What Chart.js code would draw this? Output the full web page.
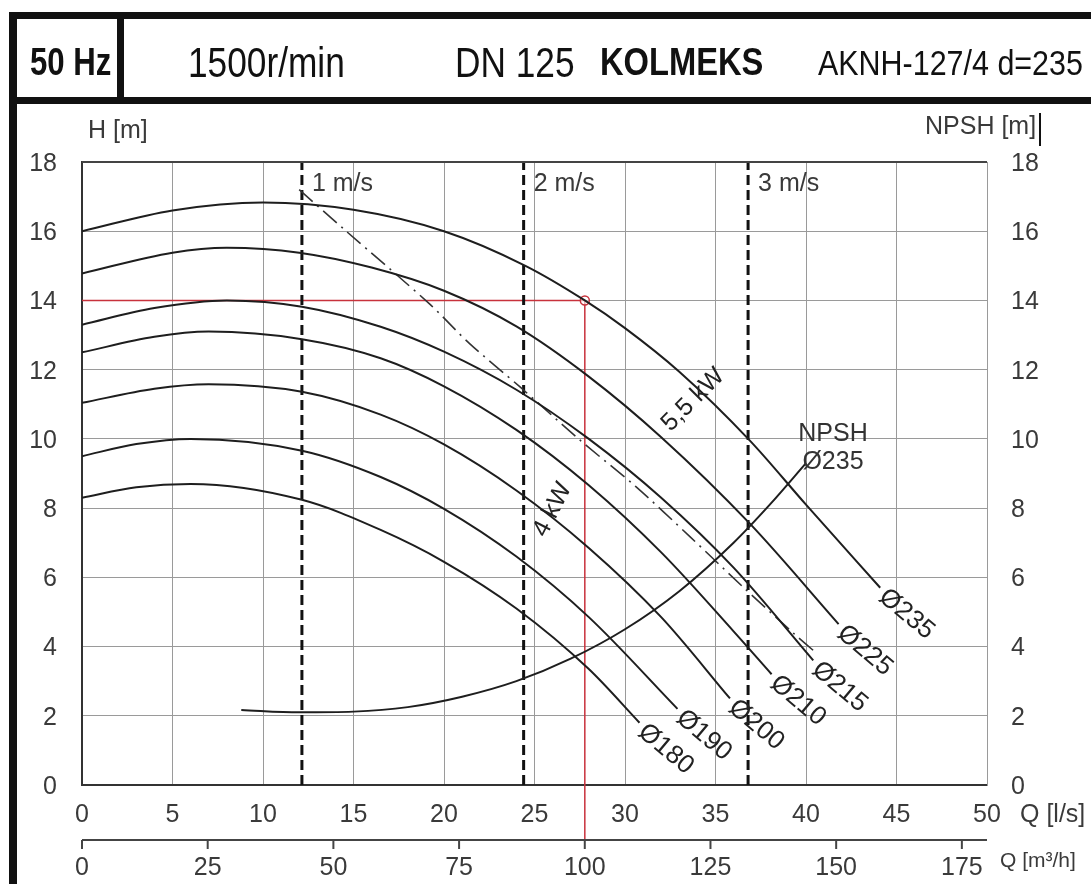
<!DOCTYPE html>
<html><head><meta charset="utf-8">
<script src="https://cdn.jsdelivr.net/npm/chart.js@4.4.1/dist/chart.umd.min.js"></script>
<style>
html,body{margin:0;padding:0;background:#fff;width:1091px;height:884px;overflow:hidden;}
#wrap{position:relative;width:1091px;height:884px;}
canvas{position:absolute;left:0;top:0;}
.bar{position:absolute;background:#111;}
.ht{position:absolute;white-space:nowrap;font-family:'Liberation Sans',Arial,sans-serif;color:#111;line-height:1;transform-origin:0 50%;}
</style></head><body>
<div id="wrap">
<canvas id="c" width="1091" height="884"></canvas>
<div class="bar" style="left:9px;top:12px;width:8px;height:872px"></div>
<div class="bar" style="left:9px;top:12px;width:1082px;height:7px"></div>
<div class="bar" style="left:9px;top:97px;width:1082px;height:7px"></div>
<div class="bar" style="left:117px;top:12px;width:7px;height:92px"></div>
<div class="ht" style="left:30px;top:43px;font-size:38px;font-weight:bold;transform:scaleX(0.82)">50 Hz</div>
<div class="ht" style="left:188px;top:41px;font-size:43px;transform:scaleX(0.82)">1500r/min</div>
<div class="ht" style="left:455px;top:41px;font-size:43px;transform:scaleX(0.82)">DN 125</div>
<div class="ht" style="left:600px;top:43px;font-size:38px;font-weight:bold;transform:scaleX(0.86)">KOLMEKS</div>
<div class="ht" style="left:818px;top:45px;font-size:35px;transform:scaleX(0.87)">AKNH-127/4 d=235</div>
</div>
<script>
// ---------- data ----------
const Q_D235 = [0, 5, 10, 15, 20, 24.5, 27.78, 30, 33, 36.9, 40, 44.1];
const H_D235 = [16.0, 16.6, 16.83, 16.62, 16.0, 15.0, 14.0, 13.2, 11.94, 9.95, 8.1, 5.7];
const Q_D225 = [0, 5, 8, 12, 16, 20, 24, 28, 32, 36.9, 41.8];
const H_D225 = [14.78, 15.38, 15.52, 15.38, 14.95, 14.28, 13.25, 11.8, 10.05, 7.55, 4.65];
const Q_D215 = [0, 4, 8, 12.15, 16.5, 20, 24, 28, 32, 36, 40.4];
const H_D215 = [13.3, 13.78, 14.0, 13.82, 13.24, 12.52, 11.42, 10.0, 8.3, 6.28, 3.6];
const Q_D210 = [0, 4, 7, 12.15, 16.5, 20, 24, 28, 32, 36, 38.1];
const H_D210 = [12.5, 12.95, 13.1, 12.88, 12.33, 11.52, 10.26, 8.66, 6.72, 4.44, 3.2];
const Q_D200 = [0, 4, 7, 12.15, 16.5, 20, 24, 28, 32, 35.8];
const H_D200 = [11.04, 11.45, 11.58, 11.36, 10.7, 9.84, 8.51, 6.85, 4.85, 2.5];
const Q_D190 = [0, 3, 6, 12.15, 16.5, 20, 24, 28, 32.9];
const H_D190 = [9.5, 9.85, 10.0, 9.66, 8.9, 7.98, 6.6, 4.85, 2.2];
const Q_D180 = [0, 3, 6, 12.15, 16.5, 20, 24, 28, 30.8];
const H_D180 = [8.3, 8.6, 8.7, 8.24, 7.37, 6.45, 5.1, 3.35, 1.8];
const Q_NPSH = [8.8, 12, 15, 18, 21, 24, 27, 30, 33, 36, 38, 40];
const H_NPSH = [2.17, 2.1, 2.12, 2.25, 2.55, 3.0, 3.65, 4.5, 5.6, 7.0, 8.1, 9.3];
const Q_LIMIT = [12.0, 14.6, 19.2, 21.4, 24.2, 27.5, 30.6, 33.6, 36.5, 39.3, 40.6];
const H_LIMIT = [17.2, 16.0, 13.9, 12.76, 11.5, 9.97, 8.62, 7.17, 5.73, 4.39, 3.8];
const VELOCITY_Q = [12.15, 24.4, 36.8];
const VELOCITY_LABELS = ['1 m/s', '2 m/s', '3 m/s'];
const DUTY_Q = 27.78, DUTY_H = 14;
const X_TICKS_LS = [0, 5, 10, 15, 20, 25, 30, 35, 40, 45, 50];
const X_TICKS_M3H = [0, 25, 50, 75, 100, 125, 150, 175];
const Y_TICKS = [0, 2, 4, 6, 8, 10, 12, 14, 16, 18];
const CURVE_NAMES = ['Ø235', 'Ø225', 'Ø215', 'Ø210', 'Ø200', 'Ø190', 'Ø180'];

// ---------- build ----------
const toPts = (q, h) => q.map((v, i) => ({x: v, y: h[i]}));
const CURVES = [[Q_D235,H_D235],[Q_D225,H_D225],[Q_D215,H_D215],[Q_D210,H_D210],[Q_D200,H_D200],[Q_D190,H_D190],[Q_D180,H_D180]];
const FONT = '"Liberation Sans", Arial, sans-serif';
const datasets = [];
CURVES.forEach((c, i) => datasets.push({label: CURVE_NAMES[i], data: toPts(c[0], c[1]), showLine: true,
  borderColor: '#1e1e1e', borderWidth: 2, pointRadius: 0, cubicInterpolationMode: 'monotone'}));
datasets.push({label: 'NPSH', data: toPts(Q_NPSH, H_NPSH), showLine: true, borderColor: '#1e1e1e', borderWidth: 2,
  pointRadius: 0, cubicInterpolationMode: 'monotone'});
datasets.push({label: 'limit', data: toPts(Q_LIMIT, H_LIMIT), showLine: true, borderColor: '#333', borderWidth: 1.6,
  borderDash: [18, 6, 2, 6], pointRadius: 0, tension: 0.3});
VELOCITY_Q.forEach((q, i) => datasets.push({label: VELOCITY_LABELS[i], data: [{x: q, y: 0}, {x: q, y: 18}], showLine: true,
  borderColor: '#111', borderWidth: 3, borderDash: [10, 5], pointRadius: 0}));
datasets.push({label: 'duty', data: [{x: DUTY_Q, y: DUTY_H}], showLine: false, pointRadius: 4.5, pointBorderWidth: 1.5,
  pointBorderColor: '#c8323c', pointBackgroundColor: 'rgba(255,255,255,0.6)'});

const overlay = {
  id: 'overlay',
  beforeDatasetsDraw(chart) {
    const {ctx, scales: {x, y}} = chart;
    const px = x.getPixelForValue(DUTY_Q), py = y.getPixelForValue(DUTY_H);
    ctx.save();
    ctx.strokeStyle = '#c8323c'; ctx.lineWidth = 1.5;
    ctx.beginPath(); ctx.moveTo(x.getPixelForValue(0), py); ctx.lineTo(px, py);
    ctx.moveTo(px, py); ctx.lineTo(px, 840); ctx.stroke();
    ctx.restore();
  },
  afterDraw(chart) {
    const {ctx, chartArea: a, scales: {x, y}} = chart;
    ctx.save();
    ctx.strokeStyle = '#444'; ctx.lineWidth = 2;
    ctx.beginPath(); ctx.moveTo(a.left, a.top); ctx.lineTo(a.right, a.top); ctx.stroke();
    ctx.fillStyle = '#3a3a3a';
    ctx.font = '25px ' + FONT;
    ctx.textBaseline = 'middle';
    ctx.textAlign = 'right';
    Y_TICKS.forEach(v => ctx.fillText(String(v), 57, y.getPixelForValue(v) + 2));
    ctx.textAlign = 'left';
    Y_TICKS.forEach(v => ctx.fillText(String(v), 1011, y.getPixelForValue(v) + 2));
    ctx.textAlign = 'center';
    X_TICKS_LS.forEach(v => ctx.fillText(String(v), x.getPixelForValue(v), 815));
    ctx.textAlign = 'left';
    ctx.fillText('Q [l/s]', 1020, 815);
    ctx.textBaseline = 'alphabetic';
    ctx.fillText('H [m]', 88, 138);
    ctx.fillText('NPSH [m]', 925, 134);
    ctx.strokeStyle = '#111'; ctx.lineWidth = 2;
    ctx.beginPath(); ctx.moveTo(1040, 113); ctx.lineTo(1040, 146); ctx.stroke();
    ctx.strokeStyle = '#444'; ctx.lineWidth = 2;
    ctx.beginPath(); ctx.moveTo(a.left, 840); ctx.lineTo(a.right, 840); ctx.stroke();
    ctx.textAlign = 'center'; ctx.textBaseline = 'middle';
    X_TICKS_M3H.forEach(v => {
      const p = x.getPixelForValue(v / 3.6);
      ctx.beginPath(); ctx.moveTo(p, 840); ctx.lineTo(p, 849); ctx.stroke();
      ctx.fillText(String(v), p, 868);
    });
    ctx.font = '21px ' + FONT; ctx.textAlign = 'left';
    ctx.fillText('Q [m³/h]', 1000, 861);
    ctx.font = '25px ' + FONT;
    VELOCITY_Q.forEach((q, i) => ctx.fillText(VELOCITY_LABELS[i], x.getPixelForValue(q) + 10, 184));
    ctx.fillStyle = '#222';
    ctx.font = '26px ' + FONT;
    CURVE_NAMES.forEach((n, i) => {
      const pts = chart.getDatasetMeta(i).data; const e = pts[pts.length - 1];
      ctx.save(); ctx.translate(e.x + 2, e.y + 6); ctx.rotate(40 * Math.PI / 180);
      ctx.textAlign = 'left'; ctx.fillText(n, 0, 0); ctx.restore();
    });
    const np = chart.getDatasetMeta(CURVE_NAMES.length).data; const ne = np[np.length - 1];
    ctx.font = '25px ' + FONT; ctx.textAlign = 'center'; ctx.fillStyle = '#333';
    ctx.fillText('NPSH', ne.x + 27, ne.y - 29);
    ctx.fillText('Ø235', ne.x + 27, ne.y - 1);
    ctx.fillStyle = '#222';
    [['5,5 kW', 33.76, 11.13, -45], ['4 kW', 26.0, 7.95, -63]].forEach(([t, q, h, r]) => {
      ctx.save(); ctx.translate(x.getPixelForValue(q), y.getPixelForValue(h)); ctx.rotate(r * Math.PI / 180);
      ctx.textAlign = 'center'; ctx.fillText(t, 0, 0); ctx.restore();
    });
    ctx.restore();
  }
};

new Chart(document.getElementById('c'), {
  type: 'scatter',
  data: {datasets},
  options: {
    responsive: false, animation: false, devicePixelRatio: 1,
    layout: {padding: {top: 162, left: 0, right: 0, bottom: 0}},
    plugins: {legend: {display: false}, tooltip: {enabled: false}},
    scales: {
      x: {type: 'linear', min: 0, max: 50, ticks: {stepSize: 5, display: false},
          grid: {color: '#9a9a9a', lineWidth: 1, drawTicks: false}, border: {display: true, color: '#333', width: 2},
          afterFit: s => { s.height = 99; }},
      y: {position: 'left', min: 0, max: 18, ticks: {stepSize: 2, display: false},
          grid: {color: '#9a9a9a', lineWidth: 1, drawTicks: false}, border: {display: true, color: '#333', width: 2},
          afterFit: s => { s.width = 82; }},
      y2: {position: 'right', min: 0, max: 18, ticks: {stepSize: 2, display: false},
          grid: {display: false, drawTicks: false}, border: {display: true, color: '#9a9a9a', width: 1},
          afterFit: s => { s.width = 104; }}
    }
  },
  plugins: [overlay]
});
</script>
</body></html>
